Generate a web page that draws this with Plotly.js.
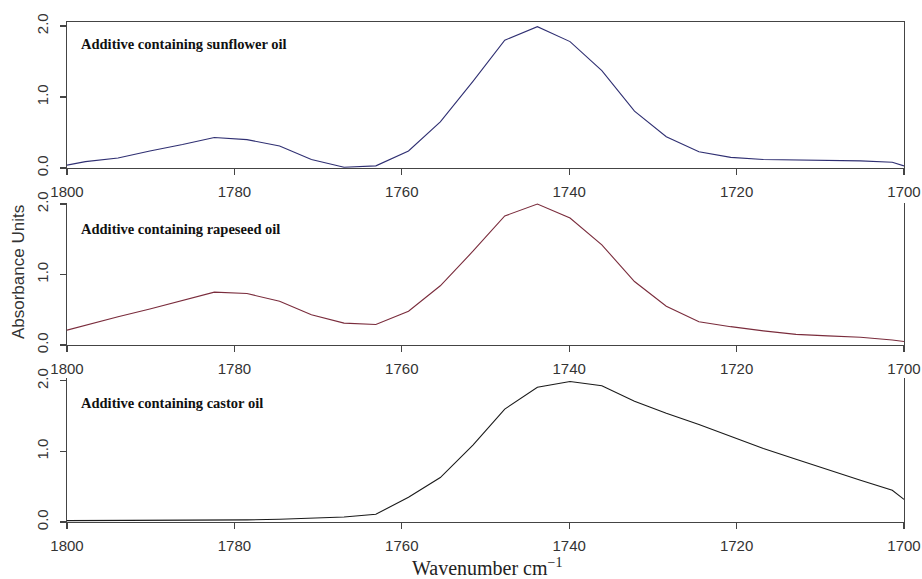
<!DOCTYPE html>
<html>
<head>
<meta charset="utf-8">
<script src="https://cdn.plot.ly/plotly-3.0.1.min.js"></script>
<style>html,body{margin:0;padding:0;background:#fff;}#chart{width:922px;height:579px;}</style>
</head>
<body>
<div id="chart"></div>
<script>
// Wavenumbers (cm^-1)
const wavenumber = [1800, 1797.8, 1793.9, 1790.1, 1786.2, 1782.4, 1778.5, 1774.6, 1770.8, 1766.9, 1763.1, 1759.2, 1755.4, 1751.5, 1747.7, 1743.8, 1739.9, 1736.1, 1732.2, 1728.4, 1724.5, 1720.7, 1716.8, 1712.9, 1709.1, 1705.2, 1701.4, 1700];
const sunflower = [0.04, 0.09, 0.14, 0.24, 0.33, 0.43, 0.40, 0.31, 0.12, 0.01, 0.03, 0.24, 0.65, 1.22, 1.80, 1.99, 1.78, 1.37, 0.80, 0.44, 0.23, 0.15, 0.12, 0.115, 0.11, 0.10, 0.08, 0.03];
const rapeseed = [0.21, 0.28, 0.40, 0.51, 0.63, 0.75, 0.73, 0.62, 0.43, 0.31, 0.29, 0.48, 0.84, 1.33, 1.83, 2.00, 1.80, 1.42, 0.90, 0.55, 0.33, 0.26, 0.20, 0.15, 0.13, 0.11, 0.07, 0.05];
const castor = [0.02, 0.02, 0.02, 0.02, 0.02, 0.02, 0.03, 0.04, 0.05, 0.07, 0.11, 0.35, 0.63, 1.09, 1.60, 1.91, 1.99, 1.93, 1.71, 1.54, 1.38, 1.21, 1.04, 0.89, 0.74, 0.59, 0.45, 0.32];
const panelLabels = ["Additive containing sunflower oil", "Additive containing rapeseed oil", "Additive containing castor oil"];
const xTicks = [1800, 1780, 1760, 1740, 1720, 1700];
const yTicks = [0, 1, 2];
const yTickText = ["0.0", "1.0", "2.0"];

const series = [sunflower, rapeseed, castor];
const colors = ["#2f2f72", "#7a2c3c", "#1a1a1a"];

const traces = series.map((s, i) => ({
  type: "scatter", mode: "lines",
  x: wavenumber, y: s,
  xaxis: i === 0 ? "x" : "x" + (i + 1),
  yaxis: i === 0 ? "y" : "y" + (i + 1),
  line: {color: colors[i], width: 1.1},
  showlegend: false, hoverinfo: "skip"
}));

const tickFont = {family: "Liberation Sans, Arial, sans-serif", size: 15, color: "#333"};
function xax(domainAnchor, mirror) {
  return {
    range: [1800, 1700], tickvals: xTicks, ticktext: xTicks.map(String),
    showline: true, linecolor: "#444", linewidth: 1.4, mirror: mirror,
    ticks: "outside", ticklen: 6, tickcolor: "#444", tickwidth: 1.2,
    showgrid: false, zeroline: false, tickfont: tickFont,
    anchor: domainAnchor, ticklabelstandoff: 4
  };
}
function yax(domain, top) {
  return {
    domain: domain, range: [0, top], tickvals: yTicks, ticktext: yTickText,
    tickangle: -90, showline: true, linecolor: "#444", linewidth: 1.4, mirror: true,
    ticks: "outside", ticklen: 6, tickcolor: "#444", tickwidth: 1.2,
    showgrid: false, zeroline: false, tickfont: tickFont, ticklabelstandoff: 6
  };
}

const labelY = [0.956, 0.586, 0.238];
const annotations = panelLabels.map((t, i) => ({
  text: "<b>" + t + "</b>", xref: "paper", yref: "paper",
  x: 0.0143, y: labelY[i], xanchor: "left", yanchor: "middle", showarrow: false,
  font: {family: "Liberation Serif, Times New Roman, serif", size: 14.5, color: "#111"}
}));
annotations.push({
  text: "Absorbance Units", xref: "paper", yref: "paper", x: -0.0585, y: 0.5,
  xanchor: "center", yanchor: "middle", textangle: -90, showarrow: false,
  font: {family: "Liberation Sans, Arial, sans-serif", size: 17, color: "#333"}
});
annotations.push({
  text: "Wavenumber cm<sup>\u22121</sup>", xref: "paper", yref: "paper", x: 0.502, y: -0.089,
  xanchor: "center", yanchor: "middle", showarrow: false,
  font: {family: "Liberation Serif, Times New Roman, serif", size: 20, color: "#222"}
});

const layout = {
  width: 922, height: 579,
  margin: {l: 67, r: 18, t: 22, b: 57},
  paper_bgcolor: "#fff", plot_bgcolor: "#fff",
  xaxis: xax("y", true),
  xaxis2: xax("y2", false),
  xaxis3: xax("y3", false),
  yaxis: yax([0.708, 1.0], 2.056),
  yaxis2: yax([0.354, 0.638], 2.014),
  yaxis3: yax([0.0, 0.288], 2.04),
  annotations: annotations
};

Plotly.newPlot("chart", traces, layout, {displayModeBar: false, staticPlot: true});
</script>
</body>
</html>
